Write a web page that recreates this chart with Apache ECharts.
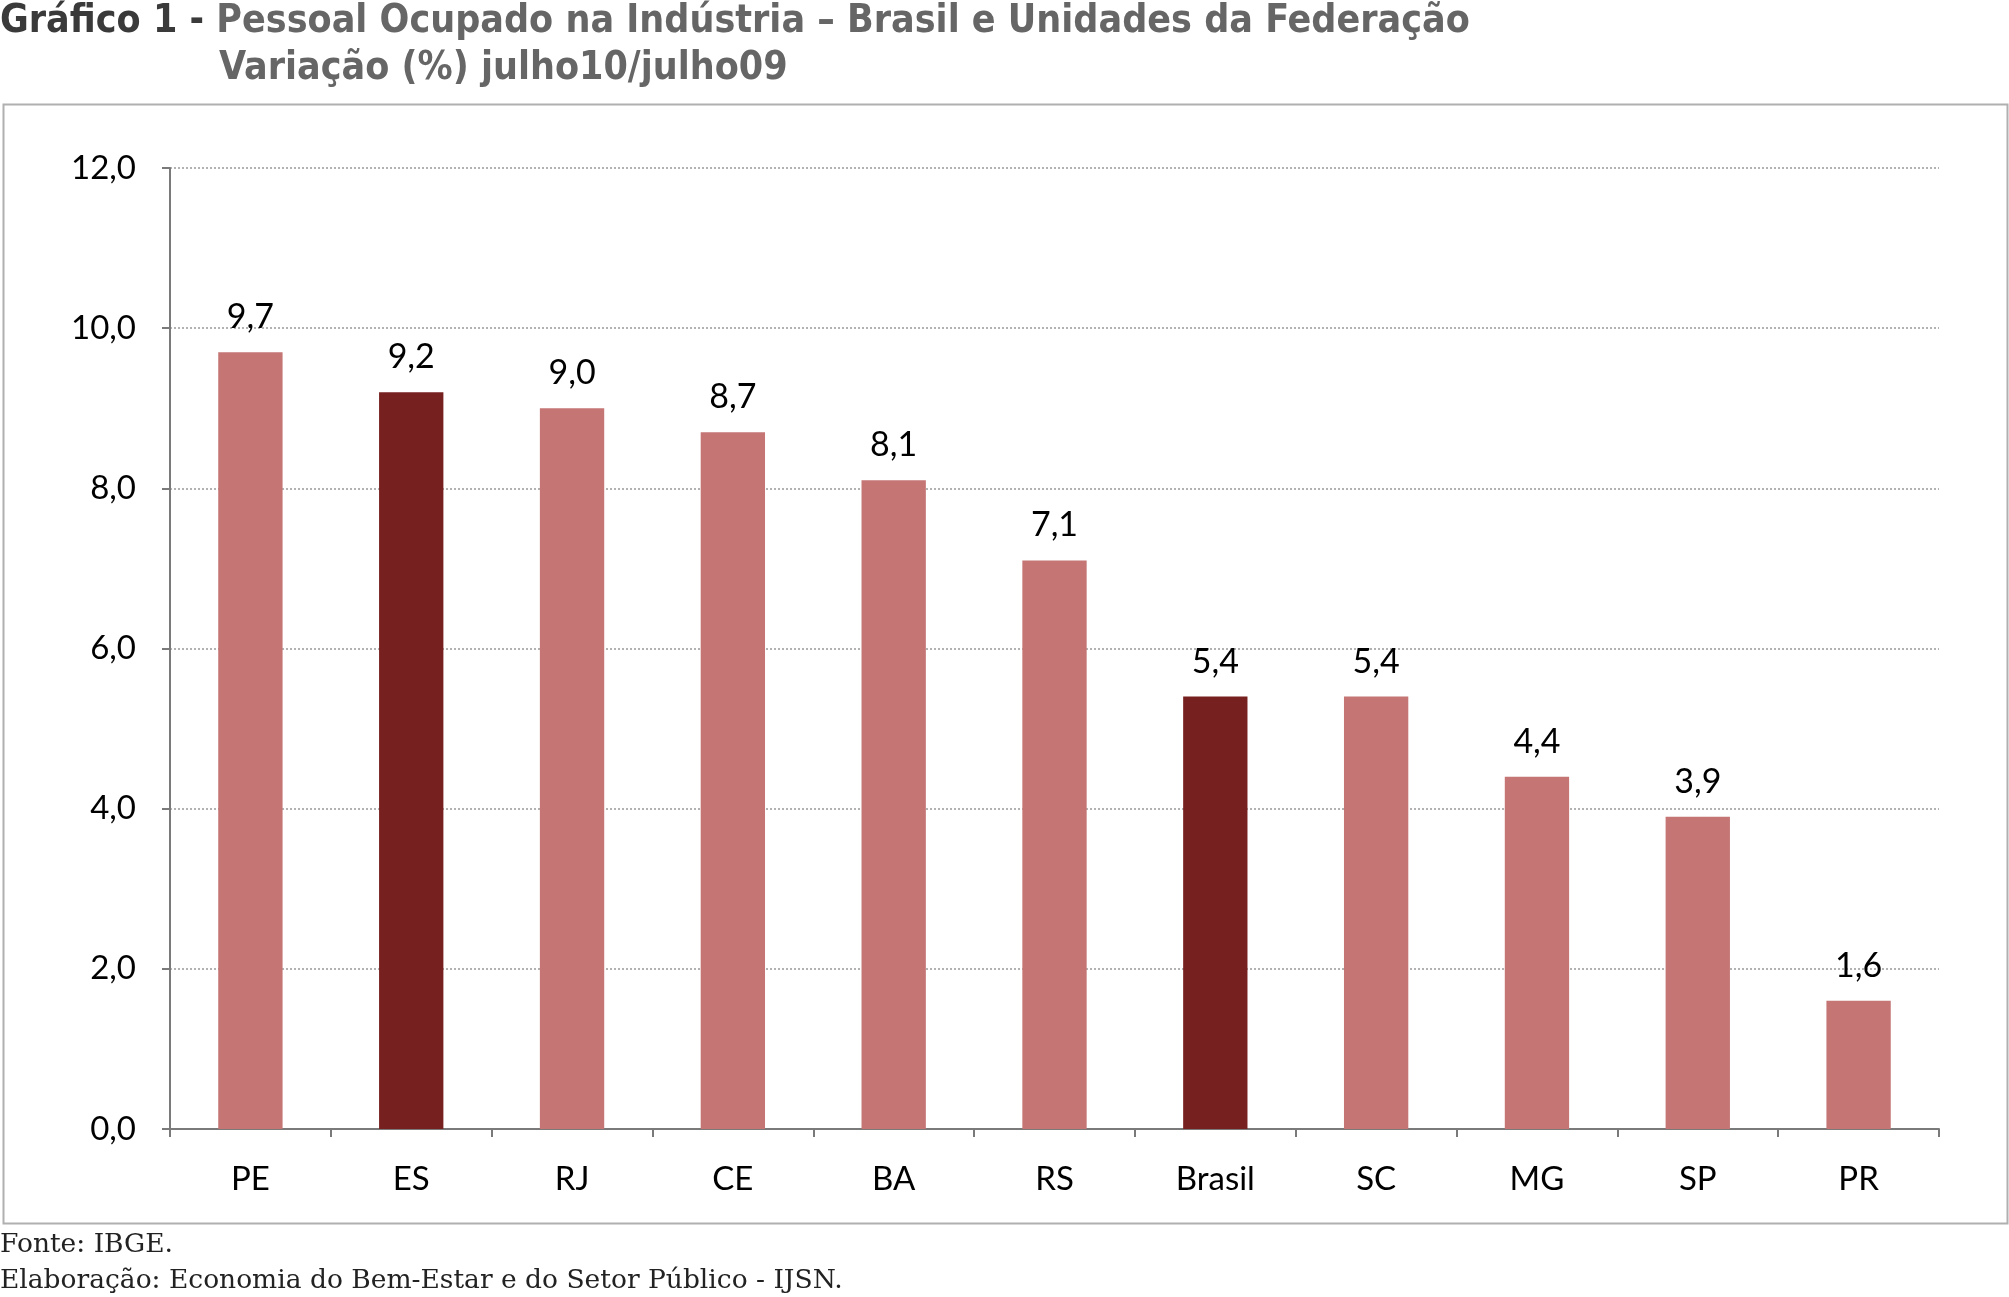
<!DOCTYPE html>
<html><head><meta charset="utf-8">
<script src="https://cdn.jsdelivr.net/npm/echarts@6/dist/echarts.min.js"></script>
<style>html,body{margin:0;padding:0;background:#fff}#c{width:2009px;height:1297px}</style>
</head><body><div id="c"></div>
<script>
const categories = ['PE','ES','RJ','CE','BA','RS','Brasil','SC','MG','SP','PR'];
const values = [9.7, 9.2, 9.0, 8.7, 8.1, 7.1, 5.4, 5.4, 4.4, 3.9, 1.6];
const highlighted = ['ES','Brasil'];
const yTicks = {min: 0, max: 12, interval: 2};
const titleLead = 'Gráfico 1 - ';
const titleMain = 'Pessoal Ocupado na Indústria – Brasil e Unidades da Federação';
const titleSub = 'Variação (%) julho10/julho09';
const footer1 = 'Fonte: IBGE.';
const footer2 = 'Elaboração: Economia do Bem-Estar e do Setor Público - IJSN.';

const LIGHT = '#C47574', DARK = '#76201F';
const sansCal = 'Lato, "Open Sans", sans-serif';
const titleFont = '"Liberation Sans Narrow", "DejaVu Sans Condensed", "Liberation Sans", sans-serif';
const fmt = v => v.toFixed(1).replace('.', ',');

const chart = echarts.init(document.getElementById('c'), null, {renderer: 'canvas'});
chart.setOption({
  backgroundColor: '#fff',
  animation: false,
  title: [
    {left: 0, top: 2, padding: 0, text: '{a|' + titleLead + '}{b|' + titleMain + '}',
     textStyle: {rich: {
       a: {fontFamily: titleFont, fontWeight: 'bold', fontSize: 39, color: '#3a3a3a'},
       b: {fontFamily: titleFont, fontWeight: 'bold', fontSize: 39, color: '#666666'}}}},
    {left: 219, top: 49, padding: 0, text: titleSub,
     textStyle: {fontFamily: titleFont, fontWeight: 'bold', fontSize: 39, color: '#666666'}},
    {left: 0, top: 1232, padding: 0, text: footer1,
     textStyle: {fontFamily: '"DejaVu Serif", serif', fontWeight: 'normal', fontSize: 26.5, color: '#222'}},
    {left: 0, top: 1268, padding: 0, text: footer2,
     textStyle: {fontFamily: '"DejaVu Serif", serif', fontWeight: 'normal', fontSize: 26.5, color: '#222'}}
  ],
  graphic: [{type: 'rect', left: 1, top: 102, shape: {x: 0, y: 0, width: 2004, height: 1119},
    style: {fill: 'none', stroke: '#b0b0b0', lineWidth: 2}, silent: true, z: -1}],
  grid: {left: 170, right: 70, top: 168, bottom: 168, containLabel: false},
  xAxis: {
    type: 'category', data: categories,
    axisLine: {lineStyle: {color: '#7a7a7a', width: 2}},
    axisTick: {show: true, alignWithLabel: false, length: 8, lineStyle: {color: '#7a7a7a', width: 2}},
    axisLabel: {color: '#000', fontFamily: sansCal, fontSize: 33, margin: 34}
  },
  yAxis: {
    type: 'value', min: yTicks.min, max: yTicks.max, interval: yTicks.interval,
    axisLine: {show: true, lineStyle: {color: '#7a7a7a', width: 2}},
    axisTick: {show: true, length: 8, lineStyle: {color: '#7a7a7a', width: 2}},
    axisLabel: {color: '#000', fontFamily: sansCal, fontSize: 33, margin: 34, formatter: v => fmt(v)},
    splitLine: {show: true, lineStyle: {color: '#999', type: [2, 2], width: 1.5}}
  },
  series: [{
    type: 'bar',
    data: values.map((v, i) => ({value: v, itemStyle: {color: highlighted.includes(categories[i]) ? DARK : LIGHT}})),
    barWidth: '40%',
    label: {show: true, position: 'top', distance: 18, color: '#000', fontFamily: sansCal, fontSize: 34,
      formatter: p => fmt(p.value)}
  }]
});
</script></body></html>
